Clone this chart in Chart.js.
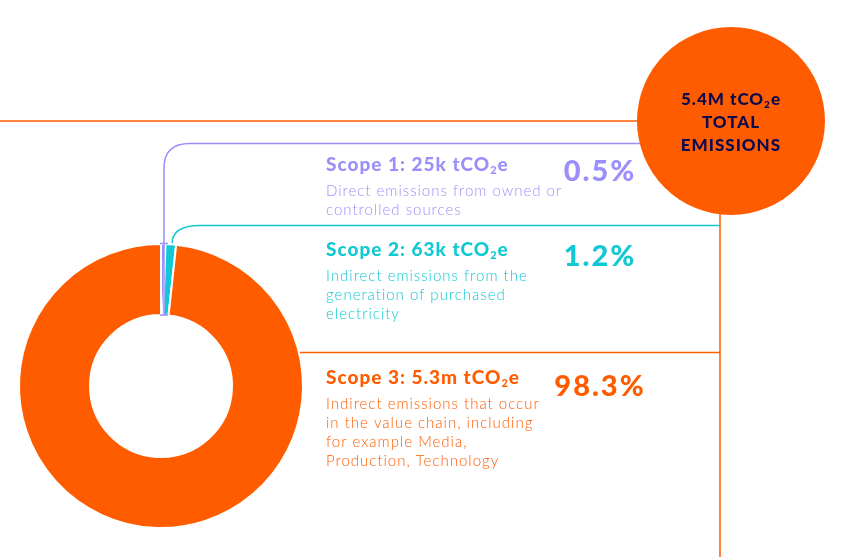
<!DOCTYPE html>
<html>
<head>
<meta charset="utf-8">
<script src="https://cdn.jsdelivr.net/npm/chart.js@4.4.0/dist/chart.umd.min.js"></script>
<style>
  html, body { margin: 0; padding: 0; background: #fff; }
  #wrap { width: 853px; height: 557px; position: relative; }
</style>
</head>
<body>
<div id="wrap"><canvas id="donut" width="853" height="557"></canvas></div>
<script>
// data
let scopes = ['Scope 1', 'Scope 2', 'Scope 3'];
let emissions = ['25k', '63k', '5.3m'];
let shares = [0.5, 1.2, 98.3];
let colours = ['#9b8ffb', '#12c9d3', '#ff5c00'];
let descriptions = [
  ['Direct emissions from owned or', 'controlled sources'],
  ['Indirect emissions from the', 'generation of purchased', 'electricity'],
  ['Indirect emissions that occur', 'in the value chain, including', 'for example Media,', 'Production, Technology']
];
let totalLines = ['5.4M tCO|2|e', 'TOTAL', 'EMISSIONS'];

const ORANGE = '#ff5c00';
const NAVY = '#0c0a4e';
const FONT = 'Lato, "Open Sans", sans-serif';

// text with a subscript 2, parts split by |
function subText(ctx, parts, x, y, size, weight, align) {
  const subSize = Math.round(size * 0.6);
  let widths = parts.map((p, i) => {
    ctx.font = weight + ' ' + (i % 2 ? subSize : size) + 'px ' + FONT;
    return ctx.measureText(p).width;
  });
  let total = widths.reduce((a, b) => a + b, 0);
  let cx = align === 'center' ? x - total / 2 : x;
  ctx.textAlign = 'left';
  parts.forEach((p, i) => {
    ctx.font = weight + ' ' + (i % 2 ? subSize : size) + 'px ' + FONT;
    ctx.fillText(p, cx, i % 2 ? y + size * 0.18 : y);
    cx += widths[i];
  });
}

const overlay = {
  id: 'overlay',
  beforeDatasetsDraw(chart) {
    const ctx = chart.ctx;
    ctx.save();
    ctx.lineWidth = 1.5;
    // orange lines
    ctx.strokeStyle = ORANGE;
    ctx.beginPath();
    ctx.moveTo(0, 121); ctx.lineTo(700, 121);
    ctx.moveTo(720, 150); ctx.lineTo(720, 557);
    ctx.moveTo(295, 352.5); ctx.lineTo(720, 352.5);
    ctx.stroke();
    // teal leader
    ctx.strokeStyle = colours[1];
    ctx.beginPath();
    ctx.moveTo(172, 244);
    ctx.bezierCurveTo(172, 232, 180, 225.5, 200, 225.5);
    ctx.lineTo(720, 225.5);
    ctx.stroke();
    ctx.restore();
  },
  afterDatasetsDraw(chart) {
    const ctx = chart.ctx;
    ctx.save();
    // purple leader through the thin slice
    ctx.strokeStyle = colours[0];
    ctx.lineWidth = 1.5;
    ctx.beginPath();
    ctx.moveTo(164, 315);
    ctx.lineTo(164, 168);
    ctx.quadraticCurveTo(164, 143.5, 190, 143.5);
    ctx.lineTo(660, 143.5);
    ctx.moveTo(160, 243.5); ctx.lineTo(168, 243.5);
    ctx.moveTo(160, 315); ctx.lineTo(168, 315);
    ctx.stroke();

    // total circle
    ctx.fillStyle = ORANGE;
    ctx.beginPath();
    ctx.arc(731, 121, 94, 0, Math.PI * 2);
    ctx.fill();
    ctx.fillStyle = NAVY;
    ctx.letterSpacing = '1px';
    let ty = [105, 128, 151];
    totalLines.forEach((t, i) => subText(ctx, t.split('|'), 731, ty[i], 17, '900', 'center'));

    // scope texts
    let titleY = [171, 255.5, 384];
    let pctY = [181, 266, 396];
    ctx.textBaseline = 'alphabetic';
    scopes.forEach((s, i) => {
      ctx.fillStyle = colours[i];
      ctx.letterSpacing = '1px';
      subText(ctx, [s + ': ' + emissions[i] + ' tCO', '2', 'e'], 326, titleY[i], 19, '900', 'left');
      ctx.font = '300 15px ' + FONT;
      ctx.textAlign = 'left';
      descriptions[i].forEach((line, j) => ctx.fillText(line, 326, titleY[i] + 25 + j * 19));
      ctx.letterSpacing = '2px';
      ctx.font = '900 29px ' + FONT;
      ctx.textAlign = 'center';
      ctx.fillText(shares[i] + '%', 600, pctY[i]);
    });
    ctx.restore();
  }
};

new Chart(document.getElementById('donut'), {
  type: 'doughnut',
  data: {
    labels: scopes,
    datasets: [{
      data: shares,
      backgroundColor: colours,
      borderColor: '#fff',
      borderWidth: 2
    }]
  },
  options: {
    responsive: false,
    animation: false,
    cutout: '50%',
    layout: { padding: { left: 18, right: 549, top: 243, bottom: 28 } },
    plugins: { legend: { display: false }, tooltip: { enabled: false } }
  },
  plugins: [overlay]
});
</script>
</body>
</html>
